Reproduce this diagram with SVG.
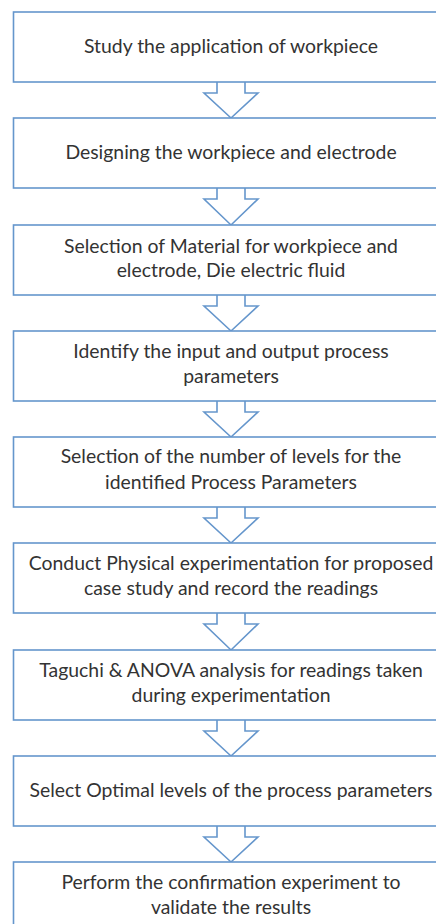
<svg xmlns="http://www.w3.org/2000/svg" width="436" height="924" viewBox="0 0 436 924">
<style>
.box{fill:#ffffff;stroke:#6596cc;stroke-width:1.6}
.arr{fill:#ffffff;stroke:#6596cc;stroke-width:1.6;stroke-linejoin:miter}
.t{font-family:Lato,"Open Sans","Liberation Sans",sans-serif;font-size:19.4px;fill:#333333;text-anchor:middle}
</style>
<rect width="436" height="924" fill="#ffffff"/>
<g id="connectors">
<path class="arr" d="M217,82 V93 H204 L231,118 L258,93 H245 V82"/>
<path class="arr" d="M217,188 V199 H204 L231,225 L258,199 H245 V188"/>
<path class="arr" d="M217,295 V306 H204 L231,331 L258,306 H245 V295"/>
<path class="arr" d="M217,401 V412 H204 L231,437 L258,412 H245 V401"/>
<path class="arr" d="M217,507 V518 H204 L231,543 L258,518 H245 V507"/>
<path class="arr" d="M217,613 V624 H204 L231,650 L258,624 H245 V613"/>
<path class="arr" d="M217,720 V731 H204 L231,756 L258,731 H245 V720"/>
<path class="arr" d="M217,826 V837 H204 L231,862 L258,837 H245 V826"/>
</g>
<g id="n1"><rect class="box" x="13.5" y="12" width="435" height="70"/><text class="t" x="231" y="53">Study the application of workpiece</text></g>
<g id="n2"><rect class="box" x="13.5" y="118" width="435" height="70"/><text class="t" x="231" y="159">Designing the workpiece and electrode</text></g>
<g id="n3"><rect class="box" x="13.5" y="225" width="435" height="70"/><text class="t" x="231" y="253">Selection of Material for workpiece and</text><text class="t" x="231" y="277">electrode, Die electric fluid</text></g>
<g id="n4"><rect class="box" x="13.5" y="331" width="435" height="70"/><text class="t" x="231" y="358">Identify the input and output process</text><text class="t" x="231" y="383">parameters</text></g>
<g id="n5"><rect class="box" x="13.5" y="437" width="435" height="70"/><text class="t" x="231" y="463">Selection of the number of levels for the</text><text class="t" x="231" y="489">identified Process Parameters</text></g>
<g id="n6"><rect class="box" x="13.5" y="543" width="435" height="70"/><text class="t" x="231" y="570">Conduct Physical experimentation for proposed</text><text class="t" x="231" y="595">case study and record the readings</text></g>
<g id="n7"><rect class="box" x="13.5" y="650" width="435" height="70"/><text class="t" x="231" y="677">Taguchi &amp; ANOVA analysis for readings taken</text><text class="t" x="231" y="702">during experimentation</text></g>
<g id="n8"><rect class="box" x="13.5" y="756" width="435" height="70"/><text class="t" x="231" y="797">Select Optimal levels of the process parameters</text></g>
<g id="n9"><rect class="box" x="13.5" y="862" width="435" height="70"/><text class="t" x="231" y="889">Perform the confirmation experiment to</text><text class="t" x="231" y="914">validate the results</text></g>
</svg>
